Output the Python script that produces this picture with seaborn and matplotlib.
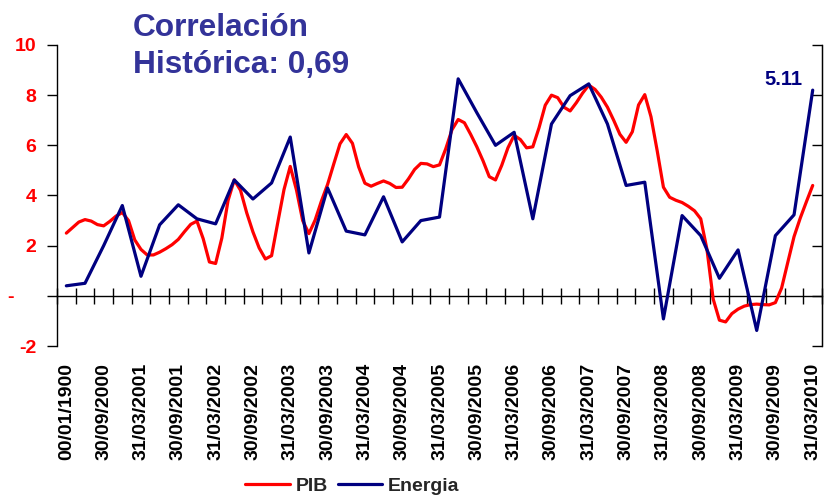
import numpy as np
import pandas as pd
import matplotlib.pyplot as plt
import seaborn as sns

sns.set_style("white")
plt.rcParams['font.family'] = ['Liberation Sans', 'DejaVu Sans']

# PIB, serie mensual (mar-2000 a mar-2010)
pib = [2.50, 2.72, 2.94, 3.04, 2.98, 2.84, 2.79, 2.97, 3.18, 3.32,
       3.00, 2.23, 1.85, 1.63, 1.63, 1.74, 1.88, 2.04, 2.25, 2.56,
       2.85, 2.98, 2.28, 1.35, 1.29, 2.30, 3.80, 4.62, 4.21, 3.31,
       2.55, 1.91, 1.47, 1.60, 2.93, 4.24, 5.16, 4.22, 3.00, 2.48,
       3.02, 3.77, 4.44, 5.26, 6.06, 6.43, 6.08, 5.14, 4.49, 4.37,
       4.48, 4.58, 4.48, 4.32, 4.33, 4.66, 5.04, 5.28, 5.26, 5.15,
       5.22, 5.86, 6.62, 7.03, 6.90, 6.44, 5.94, 5.38, 4.75, 4.62,
       5.20, 5.90, 6.40, 6.23, 5.90, 5.94, 6.70, 7.60, 8.00, 7.90,
       7.52, 7.37, 7.70, 8.08, 8.40, 8.23, 7.92, 7.52, 7.00, 6.44,
       6.12, 6.54, 7.61, 8.02, 7.14, 5.78, 4.33, 3.93, 3.81, 3.72,
       3.57, 3.39, 3.07, 1.85, -0.13, -0.97, -1.04, -0.71, -0.53, -0.41,
       -0.35, -0.33, -0.35, -0.36, -0.27, 0.31, 1.34, 2.36, 3.10, 3.76,
       4.40]

# Energia, serie trimestral
energia = [0.40, 0.50, 2.00, 3.60, 0.78, 2.83, 3.63, 3.07, 2.87, 4.62,
           3.86, 4.50, 6.33, 1.71, 4.30, 2.58, 2.43, 3.95, 2.15, 3.00,
           3.14, 8.65, 7.30, 6.00, 6.52, 3.07, 6.85, 7.98, 8.45, 6.85,
           4.40, 4.53, -0.92, 3.20, 2.40, 0.70, 1.83, -1.38, 2.40, 3.23,
           8.20]

etiquetas = ['00/01/1900', '30/09/2000', '31/03/2001', '30/09/2001', '31/03/2002',
             '30/09/2002', '31/03/2003', '30/09/2003', '31/03/2004', '30/09/2004',
             '31/03/2005', '30/09/2005', '31/03/2006', '30/09/2006', '31/03/2007',
             '30/09/2007', '31/03/2008', '30/09/2008', '31/03/2009', '30/09/2009',
             '31/03/2010']

y_ticks = [-2, 0, 2, 4, 6, 8, 10]
y_labels = ['-2', '-    ', '2', '4', '6', '8', '10']
titulo = ['Correlación', 'Histórica: 0,69']
ultimo_valor = '5.11'

pib_df = pd.DataFrame({'mes': np.arange(len(pib)), 'valor': pib})
energia_df = pd.DataFrame({'mes': np.arange(len(energia)) * 3, 'valor': energia})

fig = plt.figure(figsize=(8.25, 4.96), dpi=100)
ax = fig.add_axes([0.0691, 0.3024, 0.9273, 0.6069])

sns.lineplot(data=pib_df, x='mes', y='valor', color='#FF0000', lw=2.3, label='PIB', ax=ax)
sns.lineplot(data=energia_df, x='mes', y='valor', color='#000080', lw=2.3, label='Energia', ax=ax)

ax.set_xlim(-1.5, 121.5)
ax.set_ylim(-2, 10)
ax.set_xlabel('')
ax.set_ylabel('')

# etiquetas del eje x abajo, sin marcas
ax.set_xticks(np.arange(len(etiquetas)) * 6)
ax.set_xticklabels(etiquetas, rotation=90, fontsize=14, fontweight='bold', color='black')
ax.tick_params(axis='x', length=0, pad=12)

ax.set_yticks(y_ticks)
ax.set_yticklabels(y_labels, color='#FF0000', fontsize=14, fontweight='bold')
ax.tick_params(axis='y', left=True, direction='out', length=7, width=1, color='black', pad=8)

for s in ['top', 'bottom']:
    ax.spines[s].set_visible(False)
for s in ['left', 'right']:
    ax.spines[s].set_color('black')
    ax.spines[s].set_linewidth(1)

# eje derecho: solo marcas hacia dentro
ax_der = ax.secondary_yaxis('right')
ax_der.set_yticks(y_ticks)
ax_der.tick_params(axis='y', direction='in', length=7, width=1, color='black', labelright=False)
ax_der.spines['right'].set_color('black')

# linea de cero con marcas trimestrales
ax_cero = ax.secondary_xaxis(1 / 6)
ax_cero.set_xticks(np.arange(-1.5, 122, 3))
ax_cero.tick_params(axis='x', direction='inout', length=12, width=1, color='black',
                    labelbottom=False, labeltop=False)
for s in ax_cero.spines.values():
    s.set_color('black')
    s.set_linewidth(1)

ax.annotate(ultimo_valor, xy=(120, energia[-1]), xytext=(-29, 5), textcoords='offset pixels',
            ha='center', va='baseline', fontsize=14.5, fontweight='bold', color='#000080')

fig.text(133 / 825, 1 - 36 / 496, titulo[0], fontsize=22.8, fontweight='bold',
         color='#333399', va='baseline')
fig.text(133 / 825, 1 - 72.7 / 496, titulo[1], fontsize=22.8, fontweight='bold',
         color='#333399', va='baseline')

handles, labels = ax.get_legend_handles_labels()
ax.get_legend().remove()
fig.legend(handles, labels, loc='center', bbox_to_anchor=(0.427, 0.02), ncol=2, frameon=False,
           prop={'weight': 'bold', 'size': 14}, handlelength=2.3, handletextpad=0.3,
           columnspacing=0.5)

fig.savefig('out.png', dpi=100)
